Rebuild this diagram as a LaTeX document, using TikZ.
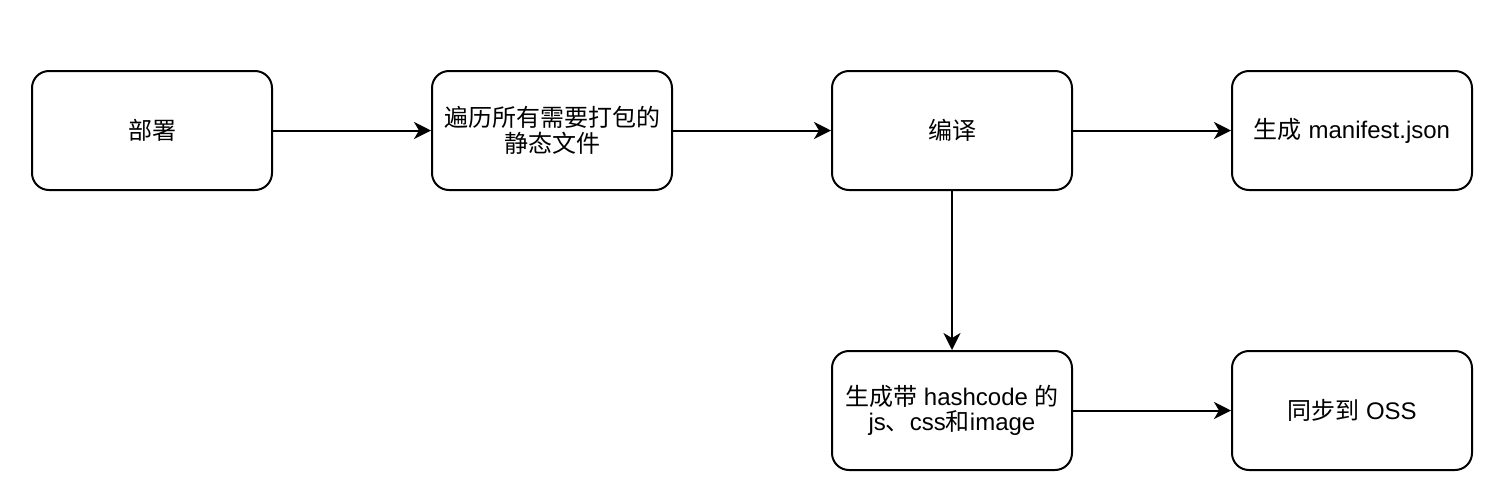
\documentclass[tikz,border=0pt]{standalone}
\usepackage{fontspec}
\setmainfont{Liberation Sans}
\newfontfamily\cjk{Noto Sans CJK SC}
\usetikzlibrary{arrows.meta}

\begin{document}
\begin{tikzpicture}[x=0.5pt,y=-0.5pt,
  stage/.style={draw,line width=1pt,rounded corners=8.5pt,minimum width=120pt,minimum height=59.5pt,align=center,font=\fontsize{12}{12.8}\selectfont},
  flow/.style={-{Stealth[length=8.5pt,width=8.5pt,inset=2.5pt]},line width=1pt}]
\useasboundingbox (0,0) rectangle (1501,500);
%top row
\node[stage] (deploy) at (152,130.5){\cjk 部署};
\node[stage] (scan) at (552,130.5){\cjk 遍历所有需要打包的\\\cjk 静态文件};
\node[stage] (build) at (952,130.5){\cjk 编译};
\node[stage] (manifest) at (1352,130.5){{\cjk 生成} manifest.json};
%bottom row
\node[stage] (hash) at (952,410.5){{\cjk 生成带} hashcode {\cjk 的}\\js{\cjk 、}css{\cjk 和}image};
\node[stage] (oss) at (1352,410.5){{\cjk 同步到} OSS};
\draw[flow] (deploy) -- (scan);
\draw[flow] (scan) -- (build);
\draw[flow] (build) -- (manifest);
\draw[flow] (build) -- (hash);
\draw[flow] (hash) -- (oss);
\end{tikzpicture}
\end{document}
